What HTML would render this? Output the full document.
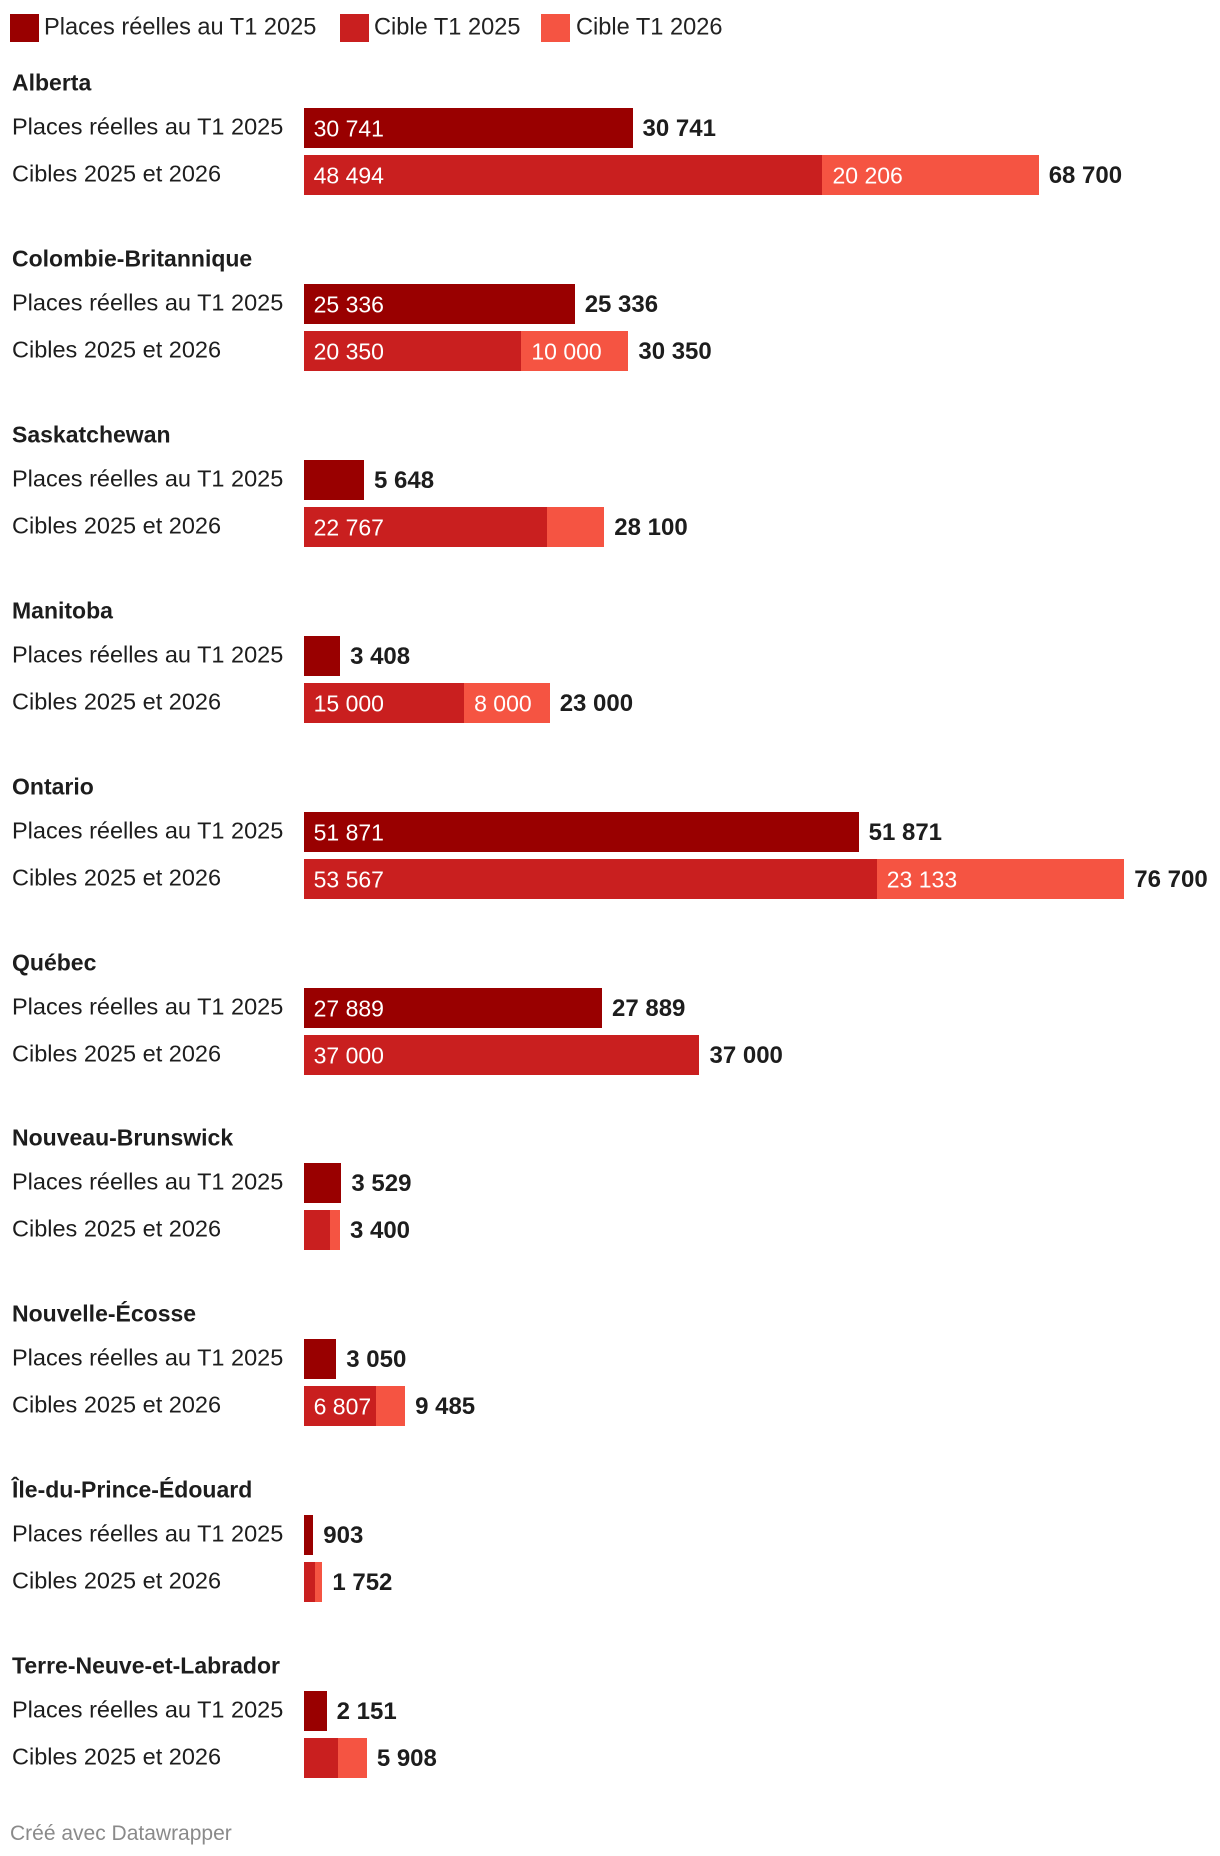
<!DOCTYPE html>
<html><head><meta charset="utf-8"><style>
body{margin:0;width:1220px;height:1856px;background:#fff;font-family:"Liberation Sans",Arial,sans-serif;color:#1d1d1d;position:relative;overflow:hidden}
.a{position:absolute;white-space:nowrap}
.sw{position:absolute;width:29px;height:28px;top:14px}
.lt{position:absolute;top:28px;transform:translateY(-50%);font-size:23.6px;color:#222}
.t{font-weight:bold;font-size:23px;transform:translateY(-50%)}
.rl{font-size:23.5px;transform:translateY(-50%);left:12px}
.bar{position:absolute;height:40px}
.in{position:absolute;color:#fff;font-size:23px;transform:translateY(-50%)}
.v{font-weight:bold;font-size:24px;transform:translateY(-50%)}
</style></head><body>
<div>
<div class="sw" style="left:10px;background:#990000"></div>
<div class="lt" style="left:44px">Places réelles au T1 2025</div>
<div class="sw" style="left:340px;background:#c91f1f"></div>
<div class="lt" style="left:374px">Cible T1 2025</div>
<div class="sw" style="left:541px;background:#f55442"></div>
<div class="lt" style="left:576px">Cible T1 2026</div>
</div>
<div id="chart"></div>
<div class="a" style="left:10px;top:1822px;font-size:21px;color:#8a8a8a">Créé avec Datawrapper</div>
<script>
const provinces=["Alberta","Colombie-Britannique","Saskatchewan","Manitoba","Ontario","Québec","Nouveau-Brunswick","Nouvelle-Écosse","Île-du-Prince-Édouard","Terre-Neuve-et-Labrador"];
const actual=[30741,25336,5648,3408,51871,27889,3529,3050,903,2151];
const target2025=[48494,20350,22767,15000,53567,37000,2500,6807,1100,3200];
const target2026=[20206,10000,5333,8000,23133,0,900,2678,652,2708];
const totals=[68700,30350,28100,23000,76700,37000,3400,9485,1752,5908];
const C=document.getElementById('chart');
const X0=303.6,K=0.0107,PITCH=175.9;
function fmt(n){return String(n).replace(/\B(?=(\d{3})+(?!\d))/g,' ');}
function sx(v){return v*K;}
function mk(cls,style,txt){const d=document.createElement('div');d.className='a '+cls;Object.assign(d.style,style);if(txt!=null)d.textContent=txt;C.appendChild(d);return d;}
provinces.forEach((p,i)=>{
  const g=i*PITCH;
  const t=mk('t',{left:'12px',top:(83+g)+'px'},p);
  
  
  const r1=108+g,r2=155+g;
  const l1=mk('rl',{top:(r1+19)+'px'},'Places réelles au T1 2025');
  
  
  const l2=mk('rl',{top:(r2+19)+'px'},'Cibles 2025 et 2026');
  
  
  const w1=sx(actual[i]);
  const b1=mk('bar',{left:X0+'px',top:r1+'px',width:w1+'px',background:'#990000'});
  
  
  if(w1>70){const s=mk('in',{left:(X0+10)+'px',top:(r1+21)+'px'},fmt(actual[i]));
    
    }
  const v1=mk('v',{left:(X0+w1+10)+'px',top:(r1+21)+'px'},fmt(actual[i]));
  
  
  const wa=sx(target2025[i]),wb=sx(target2026[i]);
  const b2=mk('bar',{left:X0+'px',top:r2+'px',width:wa+'px',background:'#c91f1f'});
  
  
  if(wa>70){const s=mk('in',{left:(X0+10)+'px',top:(r2+21)+'px'},fmt(target2025[i]));
    
    }
  if(wb>0){const b3=mk('bar',{left:(X0+wa)+'px',top:r2+'px',width:wb+'px',background:'#f55442'});
    
    
    if(wb>70){const s=mk('in',{left:(X0+wa+10)+'px',top:(r2+21)+'px'},fmt(target2026[i]));
      
      }}
  const v2=mk('v',{left:(X0+wa+wb+10)+'px',top:(r2+21)+'px'},fmt(totals[i]));
  
  
});
</script>
</body></html>
